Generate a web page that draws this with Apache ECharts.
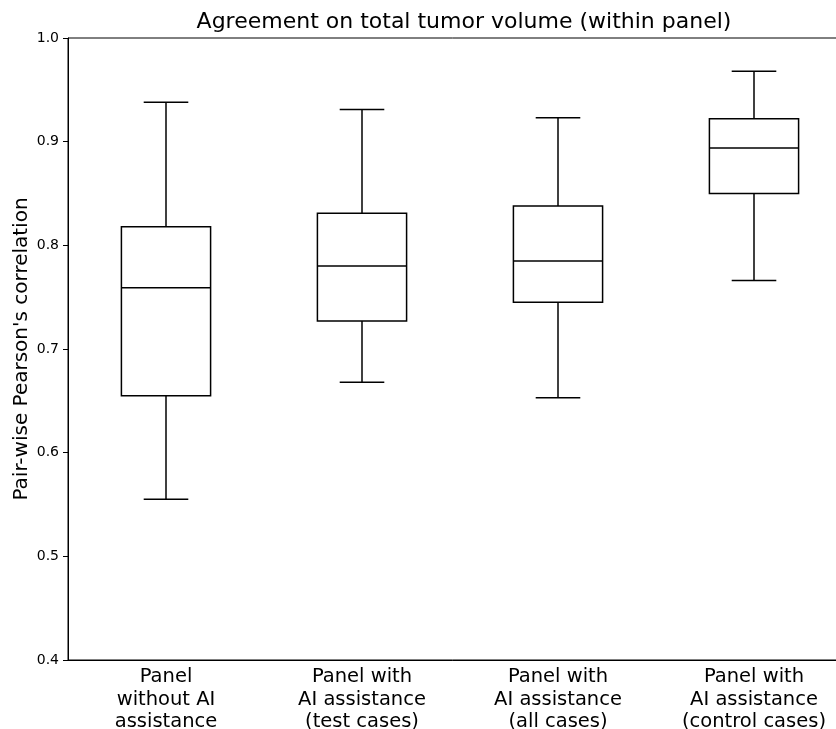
<!DOCTYPE html>
<html>
<head>
<meta charset="utf-8">
<script src="https://cdn.jsdelivr.net/npm/echarts@6/dist/echarts.min.js"></script>
<style>html,body{margin:0;padding:0;background:#fff;}#c{width:836px;height:729px;}</style>
</head>
<body>
<div id="c"></div>
<script>
var categories = ['Panel\nwithout AI\nassistance', 'Panel with\nAI assistance\n(test cases)', 'Panel with\nAI assistance\n(all cases)', 'Panel with\nAI assistance\n(control cases)'];
var whiskerLow = [0.555, 0.668, 0.653, 0.766];
var q1 = [0.655, 0.727, 0.745, 0.850];
var median = [0.759, 0.780, 0.785, 0.894];
var q3 = [0.818, 0.831, 0.838, 0.922];
var whiskerHigh = [0.938, 0.931, 0.923, 0.968];
var yTicks = [0.4, 0.5, 0.6, 0.7, 0.8, 0.9, 1.0];

var data = categories.map(function (c, i) {
  return [i, whiskerLow[i], q1[i], median[i], q3[i], whiskerHigh[i]];
});

var chart = echarts.init(document.getElementById('c'), null, {renderer: 'canvas'});
var FONT = 'DejaVu Sans';
chart.setOption({
  animation: false,
  backgroundColor: '#fff',
  title: {
    text: 'Agreement on total tumor volume (within panel)',
    left: 459, top: 6, textAlign: 'center',
    textStyle: {fontFamily: FONT, fontSize: 22, fontWeight: 'normal', color: '#000'}
  },
  grid: {left: 68, top: 38, width: 784, height: 622, outerBoundsMode: 'none', containLabel: false,
    show: true, borderColor: '#000', borderWidth: 1, backgroundColor: 'transparent'},
  xAxis: {
    type: 'category', data: categories, boundaryGap: true,
    axisLine: {lineStyle: {color: '#000', width: 1}},
    axisTick: {alignWithLabel: true, length: 5, lineStyle: {color: '#000'}},
    axisLabel: {fontFamily: FONT, fontSize: 19.5, color: '#000', margin: 6, lineHeight: 22.5, interval: 0},
    splitLine: {show: false}
  },
  yAxis: {
    type: 'value', min: 0.4, max: 1.0, interval: 0.1,
    name: "Pair-wise Pearson's correlation", nameLocation: 'middle', nameGap: 36,
    nameMoveOverlap: false,
    nameTextStyle: {fontFamily: FONT, fontSize: 20, color: '#000'},
    axisLine: {show: true, lineStyle: {color: '#000', width: 1}},
    axisTick: {show: true, length: 5, lineStyle: {color: '#000'}},
    axisLabel: {fontFamily: FONT, fontSize: 14, color: '#000', margin: 9,
      formatter: function (v) { return v.toFixed(1); }},
    splitLine: {show: false}
  },
  series: [{
    type: 'custom',
    data: data,
    clip: false,
    encode: {x: 0, y: [1, 2, 3, 4, 5]},
    renderItem: function (params, api) {
      var i = api.value(0);
      var band = api.size([1, 0])[0];
      var bw = band * 0.455;
      var cw = bw / 2;
      var pLow = api.coord([i, api.value(1)]);
      var pQ1 = api.coord([i, api.value(2)]);
      var pMed = api.coord([i, api.value(3)]);
      var pQ3 = api.coord([i, api.value(4)]);
      var pHigh = api.coord([i, api.value(5)]);
      var x = pQ1[0];
      var st = {stroke: '#000', lineWidth: 1.5, fill: null};
      return {
        type: 'group',
        children: [
          {type: 'rect', shape: {x: x - bw / 2, y: pQ3[1], width: bw, height: pQ1[1] - pQ3[1]}, style: {stroke: '#000', lineWidth: 1.5, fill: 'none'}},
          {type: 'line', shape: {x1: x - bw / 2, y1: pMed[1], x2: x + bw / 2, y2: pMed[1]}, style: st},
          {type: 'line', shape: {x1: x, y1: pQ3[1], x2: x, y2: pHigh[1]}, style: st},
          {type: 'line', shape: {x1: x, y1: pQ1[1], x2: x, y2: pLow[1]}, style: st},
          {type: 'line', shape: {x1: x - cw / 2, y1: pHigh[1], x2: x + cw / 2, y2: pHigh[1]}, style: st},
          {type: 'line', shape: {x1: x - cw / 2, y1: pLow[1], x2: x + cw / 2, y2: pLow[1]}, style: st}
        ]
      };
    }
  }]
});
</script>
</body>
</html>
